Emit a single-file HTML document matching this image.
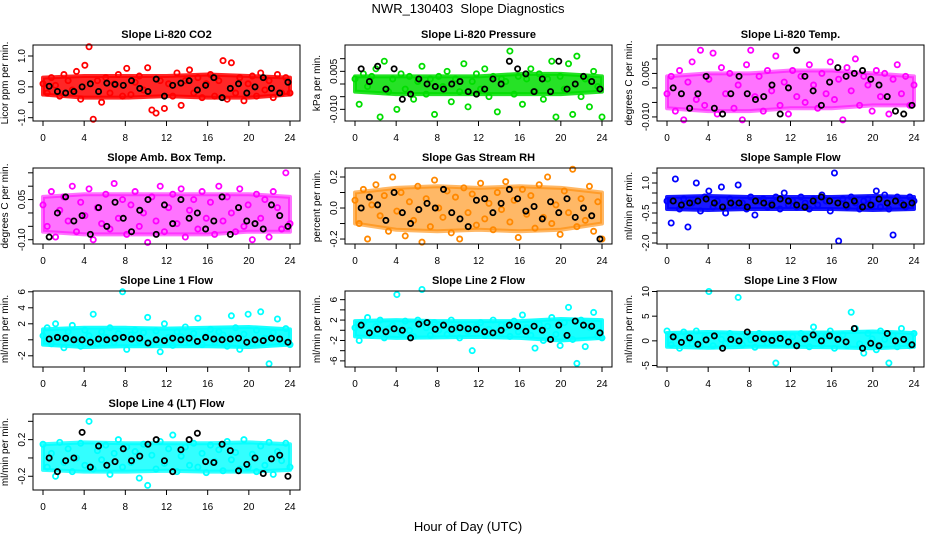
<!DOCTYPE html>
<html><head><meta charset="utf-8"><style>
body{margin:0;background:#fff}
svg{display:block;font-family:"Liberation Sans",sans-serif}
</style></head><body>
<svg id="chart" width="936" height="540" viewBox="0 0 936 540" xmlns="http://www.w3.org/2000/svg">
<text x="468" y="13" text-anchor="middle" font-size="13">NWR_130403&#160; Slope Diagnostics</text>
<text x="468" y="531" text-anchor="middle" font-size="13">Hour of Day (UTC)</text>
</svg>
<script>
const xTicks = [0,4,8,12,16,20,24];
const bandHours = [0,4,8,12,16,20,24];
const co2Vals = [0.1,-0.2,0.3,0.05,-0.3,0.4,0.2,-0.1,0.5,-0.4,0.7,1.3,-1.05,0.2,-0.5,0.3,-0.2,0.1,0.4,-0.3,0.6,-0.25,0.15,0.35,-0.1,0.62,-0.75,-0.85,0.2,-0.7,0.1,-0.3,0.45,-0.6,0.2,0.55,-0.2,0.3,-0.35,0.1,0.4,-0.3,0.2,0.85,-0.4,0.78,-0.2,0.3,-0.45,0.1,0.35,-0.3,0.45,-0.1,0.2,-0.35,0.4,-0.2,0.3,-0.2];
const co2Ref = [0.02,-0.15,-0.2,-0.15,0.0,0.1,-0.15,0.12,0.08,0.05,0.2,-0.05,-0.15,0.25,-0.3,0.05,0.12,0.2,-0.1,0.05,0.3,-0.35,-0.05,0.1,-0.2,0.0,0.3,-0.05,-0.2,0.15];
const co2Lo = [-0.25,-0.35,-0.35,-0.3,-0.35,-0.35,-0.25];
const co2Hi = [0.3,0.35,0.35,0.35,0.4,0.35,0.3];
const presVals = [0.002,-0.008,0.004,-0.001,0.003,0.006,-0.013,0.009,-0.003,0.002,-0.01,0.004,-0.002,0.003,-0.006,0.001,0.007,-0.004,0.002,-0.012,0.003,-0.001,0.005,-0.007,0.002,-0.003,0.008,-0.009,0.001,0.004,-0.002,0.006,-0.005,0.003,-0.011,0.002,0.001,0.013,-0.004,0.003,-0.008,0.002,0.006,-0.003,0.004,-0.006,0.002,0.009,-0.013,0.003,-0.002,0.008,-0.012,0.011,-0.005,0.002,-0.009,0.005,-0.001,-0.013];
const presRef = [0.006,0.001,0.007,-0.002,0.006,-0.006,-0.004,0.002,0.0,-0.001,-0.002,0.0,0.001,-0.003,-0.004,-0.002,0.002,0.0,0.009,0.006,0.004,-0.003,0.002,-0.003,0.009,-0.002,0.0,0.003,0.001,-0.002];
const presLo = [-0.003,-0.004,-0.004,-0.004,-0.004,-0.004,-0.003];
const presHi = [0.003,0.003,0.003,0.003,0.004,0.004,0.003];
const tempVals = [-0.002,0.004,-0.008,0.006,-0.011,0.002,0.009,-0.004,0.013,-0.006,0.003,0.012,-0.009,0.007,-0.002,0.005,-0.007,0.001,-0.011,0.008,0.013,-0.003,0.004,-0.008,0.006,-0.001,0.011,-0.006,0.002,-0.009,0.006,-0.003,0.004,-0.005,0.008,0.001,-0.007,0.005,-0.002,0.009,-0.004,0.003,-0.011,0.007,-0.001,0.01,-0.006,0.004,0.001,-0.008,0.006,-0.003,0.005,-0.009,0.003,0.008,-0.002,0.004,-0.006,0.001];
const tempRef = [0.0,-0.002,-0.007,-0.002,0.004,-0.007,-0.009,-0.002,0.004,-0.002,-0.004,-0.003,0.001,-0.009,0.0,0.013,0.004,-0.001,-0.006,0.002,0.007,0.004,0.005,0.006,0.003,0.001,-0.003,-0.008,-0.009,-0.006];
const tempLo = [-0.007,-0.008,-0.008,-0.007,-0.007,-0.006,-0.006];
const tempHi = [0.004,0.005,0.005,0.006,0.006,0.005,0.004];
const ambVals = [0.03,-0.05,0.08,-0.09,0.01,0.06,-0.03,0.1,-0.07,0.04,-0.01,0.09,-0.1,0.02,-0.04,0.07,-0.06,0.11,-0.02,0.05,-0.08,0.03,0.08,-0.05,0.0,-0.11,0.06,-0.03,0.1,-0.07,0.02,0.07,-0.04,0.09,-0.09,0.01,0.05,-0.06,0.08,-0.02,0.04,-0.08,0.1,-0.03,0.06,0.0,-0.07,0.09,-0.05,0.03,-0.1,0.07,-0.02,0.05,-0.09,0.08,0.02,-0.06,0.15,-0.04];
const ambRef = [-0.09,0.0,0.06,-0.03,-0.01,-0.08,0.02,-0.05,0.04,-0.02,-0.07,0.01,0.05,-0.08,0.03,-0.04,0.05,-0.02,0.0,-0.06,-0.03,0.06,-0.08,0.02,-0.03,-0.04,-0.06,0.03,-0.01,-0.05];
const ambLo = [-0.07,-0.08,-0.08,-0.08,-0.08,-0.07,-0.07];
const ambHi = [0.06,0.07,0.07,0.07,0.07,0.07,0.06];
const rhVals = [0.05,-0.1,0.12,-0.2,0.02,0.15,-0.05,0.08,-0.15,0.2,-0.02,0.1,-0.18,0.04,-0.08,0.14,-0.22,0.06,-0.12,0.18,0.0,-0.06,0.11,-0.16,0.07,-0.2,0.13,-0.03,0.09,-0.11,0.16,-0.07,0.03,-0.14,0.1,-0.01,0.17,-0.09,0.05,-0.19,0.12,-0.04,0.08,-0.13,0.15,-0.06,0.2,-0.1,0.02,-0.17,0.11,-0.03,0.25,-0.12,0.06,-0.08,0.14,-0.15,0.04,-0.2];
const rhRef = [0.0,0.07,0.02,-0.08,0.1,-0.03,-0.1,-0.01,0.03,0.0,0.12,-0.03,-0.07,-0.12,0.05,0.06,-0.03,0.03,0.12,0.06,-0.02,0.01,-0.07,0.04,-0.03,0.06,-0.06,0.0,-0.05,-0.2];
const rhLo = [-0.1,-0.14,-0.15,-0.14,-0.15,-0.14,-0.1];
const rhHi = [0.1,0.13,0.14,0.13,0.14,0.13,0.1];
const sampVals = [0.1,-1.0,1.2,-0.3,0.2,-1.2,0.0,1.0,-0.4,0.3,0.6,-0.2,0.1,0.8,-0.5,0.2,-0.1,0.9,0.0,-0.3,0.3,-0.6,0.1,0.2,-0.2,0.0,0.3,-0.3,0.5,-0.1,0.1,-0.2,0.3,0.0,-0.3,0.2,-0.1,0.4,0.1,-0.4,1.5,-1.9,0.2,-0.2,0.3,0.0,-0.3,0.1,0.2,-0.1,0.6,-0.2,0.4,-0.3,-1.6,0.3,0.0,-0.2,0.3,0.1];
const sampRef = [0.1,-0.1,0.0,0.1,0.2,0.0,-0.2,0.0,0.0,-0.2,0.1,0.0,-0.1,0.2,0.1,-0.1,-0.2,0.1,0.3,0.1,0.0,-0.1,0.1,-0.2,-0.1,0.2,0.0,0.1,-0.1,0.0];
const sampLo = [-0.3,-0.35,-0.3,-0.3,-0.3,-0.35,-0.3];
const sampHi = [0.3,0.35,0.3,0.3,0.3,0.35,0.3];
const l1Vals = [0.5,1.5,-0.5,2.0,0.2,-1.0,1.0,1.8,0.0,-0.8,1.2,0.5,3.2,-0.5,1.0,0.3,1.5,-0.3,0.8,6.0,-1.2,0.6,1.2,-0.2,0.9,2.8,-0.6,1.1,-1.5,2.0,0.3,-0.7,1.0,0.4,1.6,-0.4,0.8,2.7,-0.6,0.5,1.3,-0.3,1.0,0.6,-0.8,3.0,1.5,-1.2,0.7,3.2,-0.5,1.2,3.5,0.2,-3.0,0.9,2.6,-0.4,1.4,-0.6];
const l1Ref = [0.1,0.3,0.2,0.0,0.0,-0.3,0.1,0.0,0.2,0.3,0.1,0.2,-0.4,0.0,-0.1,0.2,0.0,0.2,-0.2,0.3,0.1,0.0,0.1,0.2,-0.3,0.0,-0.1,0.2,0.1,-0.3];
const l1Lo = [-0.6,-0.9,-0.8,-0.8,-0.8,-0.9,-0.6];
const l1Hi = [1.3,1.5,1.5,1.4,1.5,1.6,1.3];
const l2Vals = [0.5,-2.0,1.5,2.5,-1.0,0.8,2.0,-1.5,0.3,1.0,7.0,-0.5,1.8,0.0,-1.2,2.0,8.0,0.5,-1.0,1.5,0.0,1.2,-0.8,2.0,0.5,-1.5,1.0,-0.3,-4.0,0.8,1.5,-1.0,0.2,2.0,-0.5,1.0,0.6,-1.2,1.8,-0.3,3.0,0.5,-1.0,-3.5,1.2,-2.0,0.8,2.5,-0.8,-3.0,1.5,4.5,-1.8,-6.5,2.0,-3.2,0.6,3.5,-1.2,-1.5];
const l2Ref = [1.0,-0.5,0.2,-0.3,0.3,0.0,-1.5,1.2,1.5,0.2,1.0,0.2,0.5,0.3,0.2,-0.3,-0.5,0.0,1.0,0.8,-0.2,0.8,0.0,-1.8,1.0,-1.0,1.8,1.0,0.8,-0.5];
const l2Lo = [-1.2,-1.5,-1.4,-1.3,-1.5,-2.0,-1.5];
const l2Hi = [1.8,2.0,1.8,1.8,1.8,2.2,2.0];
const l3Vals = [2.0,-0.8,1.0,-1.5,1.8,0.5,-0.6,2.0,-1.0,0.8,10.0,-1.0,1.2,0.3,-0.5,1.5,0.0,8.8,-0.8,1.0,0.2,-1.3,1.5,0.4,-0.5,1.0,-4.5,0.6,1.3,-0.4,0.8,-1.0,1.5,0.2,-1.2,2.8,0.5,-0.8,1.0,2.0,-1.5,0.6,1.2,-1.0,5.8,2.5,-0.6,-2.5,1.5,0.4,-1.8,2.0,0.3,-4.5,1.0,-1.2,2.5,0.0,-1.0,1.5];
const l3Ref = [0.8,-0.3,0.6,-0.7,0.2,1.0,-1.5,0.3,0.0,1.8,0.5,0.4,0.1,0.5,-0.2,-1.0,0.4,1.2,0.0,1.0,0.3,-0.2,2.5,-1.5,-0.5,-1.0,1.5,0.0,0.3,-0.8];
const l3Lo = [-1.2,-1.4,-1.2,-1.2,-1.3,-1.5,-1.2];
const l3Hi = [1.6,1.8,1.6,1.7,1.7,1.9,1.6];
const l4Vals = [0.15,-0.1,0.05,-0.2,0.17,-0.05,0.1,-0.15,0.0,0.16,-0.08,0.4,-0.12,0.08,-0.02,0.14,-0.18,0.05,0.2,-0.1,0.12,-0.05,0.07,-0.22,0.15,-0.3,0.03,-0.12,0.18,-0.06,0.1,0.25,-0.15,0.02,0.12,-0.08,0.16,-0.1,0.05,-0.16,0.14,-0.04,0.09,-0.14,0.18,-0.02,0.06,-0.12,0.2,-0.1,0.04,-0.15,0.13,-0.08,0.17,-0.18,0.07,-0.03,0.16,-0.1];
const l4Ref = [0.0,-0.15,-0.03,0.0,0.28,-0.1,0.13,-0.08,-0.04,0.1,-0.03,0.02,0.15,0.2,-0.03,-0.15,0.09,0.2,0.27,-0.04,-0.05,0.15,0.08,-0.14,-0.07,0.0,-0.17,-0.01,0.03,-0.2];
const l4Lo = [-0.13,-0.15,-0.15,-0.14,-0.15,-0.15,-0.13];
const l4Hi = [0.15,0.17,0.16,0.16,0.16,0.17,0.15];

const panelTitles = ["Slope Li-820 CO2","Slope Li-820 Pressure","Slope Li-820 Temp.","Slope Amb. Box Temp.","Slope Gas Stream RH","Slope Sample Flow","Slope Line 1 Flow","Slope Line 2 Flow","Slope Line 3 Flow","Slope Line 4 (LT) Flow"];
const yTitles = ["Licor ppm per min.","kPa per min.","degrees C per min.","degrees C per min.","percent per min.","ml/min per min.","ml/min per min.","ml/min per min.","ml/min per min.","ml/min per min."];
const yMins = [-1.107,-0.0146,-0.0114,-0.116,-0.232,-2.05,-3.4,-7.2,-5.3,-0.35];
const yMaxs = [1.357,0.0154,0.0148,0.168,0.258,1.75,6.1,7.7,10.1,0.48];
const yTickSets = [[-1,-0.5,0,0.5,1],[-0.01,-0.005,0,0.005,0.01],[-0.01,-0.005,0,0.005,0.01],[-0.1,-0.05,0,0.05,0.1,0.15],[-0.2,-0.1,0,0.1,0.2],[-2,-1.5,-1,-0.5,0,0.5,1,1.5],[-2,0,2,4,6],[-6,-4,-2,0,2,4,6],[-5,0,5,10],[-0.2,0,0.2,0.4]];
const yLabelSets = [["-1.0","","0.0","","1.0"],["-0.010","","","0.005",""],["-0.010","","","0.005",""],["-0.10","","","0.05","",""],["-0.2","","0.0","","0.2"],["-2.0","","","-0.5","","","1.0",""],["-2","","2","4","6"],["-6","","-2","","2","","6"],["-5","0","5","10"],["-0.2","","0.2",""]];
const seriesVals = [co2Vals,presVals,tempVals,ambVals,rhVals,sampVals,l1Vals,l2Vals,l3Vals,l4Vals];
const refVals = [co2Ref,presRef,tempRef,ambRef,rhRef,sampRef,l1Ref,l2Ref,l3Ref,l4Ref];
const bandLos = [co2Lo,presLo,tempLo,ambLo,rhLo,sampLo,l1Lo,l2Lo,l3Lo,l4Lo];
const bandHis = [co2Hi,presHi,tempHi,ambHi,rhHi,sampHi,l1Hi,l2Hi,l3Hi,l4Hi];
const colors = ["#ff0000","#00dd00","#ff00ff","#ff00ff","#ff8800","#0000ff","#00ffff","#00ffff","#00ffff","#00ffff"];
const bandOpacity = [0.85,0.85,0.55,0.55,0.6,0.9,0.9,0.9,0.9,0.8];

const NS="http://www.w3.org/2000/svg";
const svg=document.getElementById('chart');
function mk(tag,attrs,parent){const e=document.createElementNS(NS,tag);for(const k in attrs)e.setAttribute(k,attrs[k]);(parent||svg).appendChild(e);return e;}

for(let p=0;p<10;p++){
  const col=p%3,row=Math.floor(p/3);
  const x0=col*312+43, top=45+row*123, bot=top+76;
  const xs=v=>x0+v*247/24;
  const ys=v=>bot-(v-yMins[p])/(yMaxs[p]-yMins[p])*76;
  const g=mk('g',{});
  
  
  const t=mk('text',{x:x0+123.5,y:top-7,'text-anchor':'middle','font-size':'11','font-weight':'bold'},g);
  t.textContent=panelTitles[p];
  
  
  const yt=mk('text',{x:0,y:0,'text-anchor':'middle','font-size':'10',transform:`translate(${x0-35},${top+38}) rotate(-90)`},g);
  yt.textContent=yTitles[p];
  
  
  // dense band of colored points
  const lo=bandLos[p], hi=bandHis[p];
  let pts=[];
  for(let i=0;i<bandHours.length;i++) pts.push(xs(bandHours[i])+','+ys(hi[i]));
  for(let i=bandHours.length-1;i>=0;i--) pts.push(xs(bandHours[i])+','+ys(lo[i]));
  const band=mk('polygon',{points:pts.join(' '),fill:colors[p],'fill-opacity':bandOpacity[p],stroke:colors[p],'stroke-width':4,'stroke-opacity':bandOpacity[p],'stroke-linejoin':'round'},g);
  
  
  const cv=seriesVals[p];
  for(let i=0;i<cv.length;i++){
    const c=mk('circle',{cx:xs(i*24/(cv.length-1)),cy:ys(cv[i]),r:2.6,fill:'none',stroke:colors[p],'stroke-width':1.8},g);
    
    
  }
  const rv=refVals[p];
  for(let i=0;i<rv.length;i++){
    const c=mk('circle',{cx:xs(0.6+i*23.2/(rv.length-1)),cy:ys(rv[i]),r:2.6,fill:'none',stroke:'#000','stroke-width':1.8},g);
    
    
  }
  const box=mk('rect',{x:x0-10,y:top,width:267,height:76,fill:'none',stroke:'#000','stroke-width':1},g);
  
  
  mk('line',{x1:xs(0),x2:xs(24),y1:bot,y2:bot,stroke:'#000'},g);
  xTicks.forEach(v=>{
    mk('line',{x1:xs(v),x2:xs(v),y1:bot,y2:bot+5,stroke:'#000'},g);
    const l=mk('text',{x:xs(v),y:bot+20,'text-anchor':'middle','font-size':'10'},g);
    l.textContent=v;
    
    
  });
  const tk=yTickSets[p], lb=yLabelSets[p];
  tk.forEach((v,i)=>{
    const y=ys(v);
    mk('line',{x1:x0-15,x2:x0-10,y1:y,y2:y,stroke:'#000'},g);
    if(lb[i]){
      const l=mk('text',{x:0,y:0,'text-anchor':'middle','font-size':'10',transform:`translate(${x0-18},${y}) rotate(-90)`},g);
      l.textContent=lb[i];
      
      
    }
  });
  mk('line',{x1:x0-10,x2:x0-10,y1:ys(tk[0]),y2:ys(tk[tk.length-1]),stroke:'#000'},g);
}
</script>
</body></html>
